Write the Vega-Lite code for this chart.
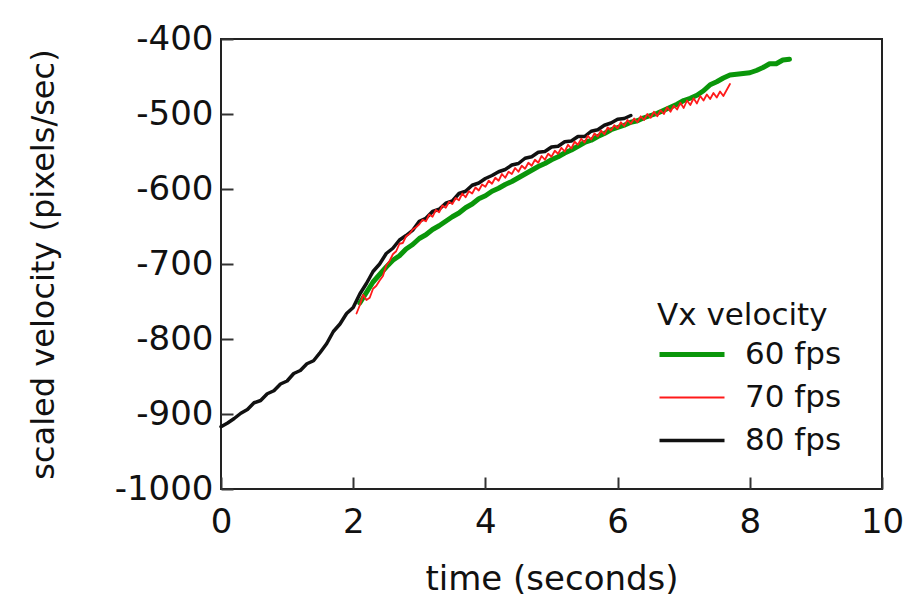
{
  "$schema": "https://vega.github.io/schema/vega-lite/v6.json",
  "width": 661,
  "height": 450,
  "autosize": "none",
  "padding": {"left": 221, "top": 39, "right": 35, "bottom": 114},
  "background": "white",
  "config": {
    "font": "DejaVu Sans",
    "view": {"stroke": "#222222", "strokeWidth": 2},
    "axis": {
      "grid": false,
      "domain": false,
      "ticks": true,
      "tickColor": "#333333",
      "tickWidth": 2,
      "tickSize": -12,
      "labelFontSize": 34,
      "labelColor": "#111111",
      "labelFlush": false,
      "labelOverlap": false,
      "titleFontWeight": "normal",
      "titleColor": "#111111"
    }
  },
  "data": {
    "values": [
      {"series": "60 fps", "t": 2.1, "v": -752}, {"series": "60 fps", "t": 2.2, "v": -738}, {"series": "60 fps", "t": 2.3, "v": -724}, {"series": "60 fps", "t": 2.4, "v": -714}, {"series": "60 fps", "t": 2.5, "v": -704}, {"series": "60 fps", "t": 2.6, "v": -695}, {"series": "60 fps", "t": 2.7, "v": -689}, {"series": "60 fps", "t": 2.8, "v": -680}, {"series": "60 fps", "t": 2.9, "v": -674}, {"series": "60 fps", "t": 3.0, "v": -666}, {"series": "60 fps", "t": 3.1, "v": -661}, {"series": "60 fps", "t": 3.2, "v": -654}, {"series": "60 fps", "t": 3.3, "v": -649}, {"series": "60 fps", "t": 3.4, "v": -643}, {"series": "60 fps", "t": 3.5, "v": -637}, {"series": "60 fps", "t": 3.6, "v": -632}, {"series": "60 fps", "t": 3.7, "v": -625}, {"series": "60 fps", "t": 3.8, "v": -620}, {"series": "60 fps", "t": 3.9, "v": -613}, {"series": "60 fps", "t": 4.0, "v": -609}, {"series": "60 fps", "t": 4.1, "v": -603}, {"series": "60 fps", "t": 4.2, "v": -599}, {"series": "60 fps", "t": 4.3, "v": -594}, {"series": "60 fps", "t": 4.4, "v": -590}, {"series": "60 fps", "t": 4.5, "v": -585}, {"series": "60 fps", "t": 4.6, "v": -580}, {"series": "60 fps", "t": 4.7, "v": -575}, {"series": "60 fps", "t": 4.8, "v": -570}, {"series": "60 fps", "t": 4.9, "v": -566}, {"series": "60 fps", "t": 5.0, "v": -561}, {"series": "60 fps", "t": 5.1, "v": -557}, {"series": "60 fps", "t": 5.2, "v": -552}, {"series": "60 fps", "t": 5.3, "v": -548}, {"series": "60 fps", "t": 5.4, "v": -543}, {"series": "60 fps", "t": 5.5, "v": -538}, {"series": "60 fps", "t": 5.6, "v": -535}, {"series": "60 fps", "t": 5.7, "v": -530}, {"series": "60 fps", "t": 5.8, "v": -526}, {"series": "60 fps", "t": 5.9, "v": -521}, {"series": "60 fps", "t": 6.0, "v": -518}, {"series": "60 fps", "t": 6.1, "v": -515}, {"series": "60 fps", "t": 6.2, "v": -511}, {"series": "60 fps", "t": 6.3, "v": -509}, {"series": "60 fps", "t": 6.4, "v": -505}, {"series": "60 fps", "t": 6.5, "v": -502}, {"series": "60 fps", "t": 6.6, "v": -499}, {"series": "60 fps", "t": 6.7, "v": -495}, {"series": "60 fps", "t": 6.8, "v": -491}, {"series": "60 fps", "t": 6.9, "v": -487}, {"series": "60 fps", "t": 7.0, "v": -482}, {"series": "60 fps", "t": 7.1, "v": -479}, {"series": "60 fps", "t": 7.2, "v": -475}, {"series": "60 fps", "t": 7.3, "v": -469}, {"series": "60 fps", "t": 7.4, "v": -461}, {"series": "60 fps", "t": 7.5, "v": -457}, {"series": "60 fps", "t": 7.6, "v": -452}, {"series": "60 fps", "t": 7.7, "v": -448}, {"series": "60 fps", "t": 7.8, "v": -447}, {"series": "60 fps", "t": 7.9, "v": -446}, {"series": "60 fps", "t": 8.0, "v": -445}, {"series": "60 fps", "t": 8.1, "v": -442}, {"series": "60 fps", "t": 8.2, "v": -438}, {"series": "60 fps", "t": 8.3, "v": -433}, {"series": "60 fps", "t": 8.4, "v": -433}, {"series": "60 fps", "t": 8.5, "v": -428}, {"series": "60 fps", "t": 8.6, "v": -427},
      {"series": "80 fps", "t": 0.0, "v": -917}, {"series": "80 fps", "t": 0.1, "v": -912}, {"series": "80 fps", "t": 0.2, "v": -906}, {"series": "80 fps", "t": 0.3, "v": -899}, {"series": "80 fps", "t": 0.4, "v": -894}, {"series": "80 fps", "t": 0.5, "v": -885}, {"series": "80 fps", "t": 0.6, "v": -882}, {"series": "80 fps", "t": 0.7, "v": -873}, {"series": "80 fps", "t": 0.8, "v": -869}, {"series": "80 fps", "t": 0.9, "v": -860}, {"series": "80 fps", "t": 1.0, "v": -856}, {"series": "80 fps", "t": 1.1, "v": -846}, {"series": "80 fps", "t": 1.2, "v": -842}, {"series": "80 fps", "t": 1.3, "v": -833}, {"series": "80 fps", "t": 1.4, "v": -829}, {"series": "80 fps", "t": 1.5, "v": -818}, {"series": "80 fps", "t": 1.6, "v": -806}, {"series": "80 fps", "t": 1.7, "v": -790}, {"series": "80 fps", "t": 1.8, "v": -780}, {"series": "80 fps", "t": 1.9, "v": -766}, {"series": "80 fps", "t": 2.0, "v": -758}, {"series": "80 fps", "t": 2.1, "v": -740}, {"series": "80 fps", "t": 2.2, "v": -726}, {"series": "80 fps", "t": 2.3, "v": -710}, {"series": "80 fps", "t": 2.4, "v": -700}, {"series": "80 fps", "t": 2.5, "v": -686}, {"series": "80 fps", "t": 2.6, "v": -679}, {"series": "80 fps", "t": 2.7, "v": -668}, {"series": "80 fps", "t": 2.8, "v": -662}, {"series": "80 fps", "t": 2.9, "v": -655}, {"series": "80 fps", "t": 3.0, "v": -643}, {"series": "80 fps", "t": 3.1, "v": -639}, {"series": "80 fps", "t": 3.2, "v": -630}, {"series": "80 fps", "t": 3.3, "v": -627}, {"series": "80 fps", "t": 3.4, "v": -619}, {"series": "80 fps", "t": 3.5, "v": -616}, {"series": "80 fps", "t": 3.6, "v": -606}, {"series": "80 fps", "t": 3.7, "v": -603}, {"series": "80 fps", "t": 3.8, "v": -595}, {"series": "80 fps", "t": 3.9, "v": -592}, {"series": "80 fps", "t": 4.0, "v": -586}, {"series": "80 fps", "t": 4.1, "v": -582}, {"series": "80 fps", "t": 4.2, "v": -577}, {"series": "80 fps", "t": 4.3, "v": -574}, {"series": "80 fps", "t": 4.4, "v": -568}, {"series": "80 fps", "t": 4.5, "v": -566}, {"series": "80 fps", "t": 4.6, "v": -559}, {"series": "80 fps", "t": 4.7, "v": -557}, {"series": "80 fps", "t": 4.8, "v": -551}, {"series": "80 fps", "t": 4.9, "v": -550}, {"series": "80 fps", "t": 5.0, "v": -544}, {"series": "80 fps", "t": 5.1, "v": -543}, {"series": "80 fps", "t": 5.2, "v": -537}, {"series": "80 fps", "t": 5.3, "v": -536}, {"series": "80 fps", "t": 5.4, "v": -530}, {"series": "80 fps", "t": 5.5, "v": -530}, {"series": "80 fps", "t": 5.6, "v": -523}, {"series": "80 fps", "t": 5.7, "v": -521}, {"series": "80 fps", "t": 5.8, "v": -515}, {"series": "80 fps", "t": 5.9, "v": -512}, {"series": "80 fps", "t": 6.0, "v": -507}, {"series": "80 fps", "t": 6.1, "v": -506}, {"series": "80 fps", "t": 6.2, "v": -502},
      {"series": "70 fps", "t": 2.05, "v": -766}, {"series": "70 fps", "t": 2.10, "v": -755}, {"series": "70 fps", "t": 2.15, "v": -741}, {"series": "70 fps", "t": 2.20, "v": -748}, {"series": "70 fps", "t": 2.25, "v": -745}, {"series": "70 fps", "t": 2.30, "v": -733}, {"series": "70 fps", "t": 2.35, "v": -729}, {"series": "70 fps", "t": 2.40, "v": -722}, {"series": "70 fps", "t": 2.45, "v": -716}, {"series": "70 fps", "t": 2.50, "v": -702}, {"series": "70 fps", "t": 2.55, "v": -696}, {"series": "70 fps", "t": 2.60, "v": -687}, {"series": "70 fps", "t": 2.65, "v": -683}, {"series": "70 fps", "t": 2.70, "v": -673}, {"series": "70 fps", "t": 2.75, "v": -672}, {"series": "70 fps", "t": 2.80, "v": -663}, {"series": "70 fps", "t": 2.85, "v": -660}, {"series": "70 fps", "t": 2.90, "v": -654}, {"series": "70 fps", "t": 2.95, "v": -651}, {"series": "70 fps", "t": 3.00, "v": -647}, {"series": "70 fps", "t": 3.05, "v": -641}, {"series": "70 fps", "t": 3.10, "v": -643}, {"series": "70 fps", "t": 3.15, "v": -634}, {"series": "70 fps", "t": 3.20, "v": -637}, {"series": "70 fps", "t": 3.25, "v": -628}, {"series": "70 fps", "t": 3.30, "v": -631}, {"series": "70 fps", "t": 3.35, "v": -622}, {"series": "70 fps", "t": 3.40, "v": -625}, {"series": "70 fps", "t": 3.45, "v": -617}, {"series": "70 fps", "t": 3.50, "v": -620}, {"series": "70 fps", "t": 3.55, "v": -612}, {"series": "70 fps", "t": 3.60, "v": -615}, {"series": "70 fps", "t": 3.65, "v": -606}, {"series": "70 fps", "t": 3.70, "v": -611}, {"series": "70 fps", "t": 3.75, "v": -603}, {"series": "70 fps", "t": 3.80, "v": -606}, {"series": "70 fps", "t": 3.85, "v": -598}, {"series": "70 fps", "t": 3.90, "v": -602}, {"series": "70 fps", "t": 3.95, "v": -594}, {"series": "70 fps", "t": 4.00, "v": -597}, {"series": "70 fps", "t": 4.05, "v": -589}, {"series": "70 fps", "t": 4.10, "v": -593}, {"series": "70 fps", "t": 4.15, "v": -585}, {"series": "70 fps", "t": 4.20, "v": -589}, {"series": "70 fps", "t": 4.25, "v": -580}, {"series": "70 fps", "t": 4.30, "v": -585}, {"series": "70 fps", "t": 4.35, "v": -577}, {"series": "70 fps", "t": 4.40, "v": -580}, {"series": "70 fps", "t": 4.45, "v": -572}, {"series": "70 fps", "t": 4.50, "v": -577}, {"series": "70 fps", "t": 4.55, "v": -569}, {"series": "70 fps", "t": 4.60, "v": -573}, {"series": "70 fps", "t": 4.65, "v": -565}, {"series": "70 fps", "t": 4.70, "v": -569}, {"series": "70 fps", "t": 4.75, "v": -561}, {"series": "70 fps", "t": 4.80, "v": -565}, {"series": "70 fps", "t": 4.85, "v": -556}, {"series": "70 fps", "t": 4.90, "v": -561}, {"series": "70 fps", "t": 4.95, "v": -553}, {"series": "70 fps", "t": 5.00, "v": -557}, {"series": "70 fps", "t": 5.05, "v": -549}, {"series": "70 fps", "t": 5.10, "v": -553}, {"series": "70 fps", "t": 5.15, "v": -545}, {"series": "70 fps", "t": 5.20, "v": -550}, {"series": "70 fps", "t": 5.25, "v": -541}, {"series": "70 fps", "t": 5.30, "v": -546}, {"series": "70 fps", "t": 5.35, "v": -537}, {"series": "70 fps", "t": 5.40, "v": -541}, {"series": "70 fps", "t": 5.45, "v": -533}, {"series": "70 fps", "t": 5.50, "v": -538}, {"series": "70 fps", "t": 5.55, "v": -529}, {"series": "70 fps", "t": 5.60, "v": -534}, {"series": "70 fps", "t": 5.65, "v": -526}, {"series": "70 fps", "t": 5.70, "v": -530}, {"series": "70 fps", "t": 5.75, "v": -522}, {"series": "70 fps", "t": 5.80, "v": -527}, {"series": "70 fps", "t": 5.85, "v": -518}, {"series": "70 fps", "t": 5.90, "v": -522}, {"series": "70 fps", "t": 5.95, "v": -515}, {"series": "70 fps", "t": 6.00, "v": -519}, {"series": "70 fps", "t": 6.05, "v": -511}, {"series": "70 fps", "t": 6.10, "v": -516}, {"series": "70 fps", "t": 6.15, "v": -508}, {"series": "70 fps", "t": 6.20, "v": -513}, {"series": "70 fps", "t": 6.25, "v": -506}, {"series": "70 fps", "t": 6.30, "v": -511}, {"series": "70 fps", "t": 6.35, "v": -503}, {"series": "70 fps", "t": 6.40, "v": -508}, {"series": "70 fps", "t": 6.45, "v": -500}, {"series": "70 fps", "t": 6.50, "v": -505}, {"series": "70 fps", "t": 6.55, "v": -497}, {"series": "70 fps", "t": 6.60, "v": -503}, {"series": "70 fps", "t": 6.65, "v": -495}, {"series": "70 fps", "t": 6.70, "v": -500}, {"series": "70 fps", "t": 6.75, "v": -491}, {"series": "70 fps", "t": 6.80, "v": -497}, {"series": "70 fps", "t": 6.85, "v": -489}, {"series": "70 fps", "t": 6.90, "v": -494}, {"series": "70 fps", "t": 6.95, "v": -485}, {"series": "70 fps", "t": 7.00, "v": -492}, {"series": "70 fps", "t": 7.05, "v": -482}, {"series": "70 fps", "t": 7.10, "v": -488}, {"series": "70 fps", "t": 7.15, "v": -479}, {"series": "70 fps", "t": 7.20, "v": -486}, {"series": "70 fps", "t": 7.25, "v": -476}, {"series": "70 fps", "t": 7.30, "v": -482}, {"series": "70 fps", "t": 7.35, "v": -474}, {"series": "70 fps", "t": 7.40, "v": -480}, {"series": "70 fps", "t": 7.45, "v": -472}, {"series": "70 fps", "t": 7.50, "v": -478}, {"series": "70 fps", "t": 7.55, "v": -470}, {"series": "70 fps", "t": 7.60, "v": -476}, {"series": "70 fps", "t": 7.65, "v": -468}, {"series": "70 fps", "t": 7.70, "v": -460}
    ]
  },
  "mark": {"type": "line", "interpolate": "linear", "strokeJoin": "round", "strokeCap": "round"},
  "encoding": {
    "x": {
      "field": "t", "type": "quantitative",
      "scale": {"domain": [0, 10], "nice": false},
      "axis": {"title": "time (seconds)", "titleFontSize": 34, "values": [0, 2, 4, 6, 8, 10], "labelPadding": 28, "titlePadding": 23}
    },
    "y": {
      "field": "v", "type": "quantitative",
      "scale": {"domain": [-1000, -400], "nice": false, "zero": false},
      "axis": {"title": "scaled velocity (pixels/sec)", "titleFontSize": 32, "values": [-1000, -900, -800, -700, -600, -500, -400], "labelExpr": "'' + datum.value", "labelPadding": 20, "titlePadding": 54}
    },
    "color": {
      "field": "series", "type": "nominal",
      "scale": {"domain": ["60 fps", "70 fps", "80 fps"], "range": ["#0a960a", "#ff1a1a", "#111111"]},
      "legend": {"title": "Vx velocity", "orient": "none", "legendX": 436, "legendY": 262, "symbolType": "stroke", "symbolSize": 4225, "clipHeight": 43, "labelFontSize": 31, "titleFontSize": 31, "titleFontWeight": "normal", "titleColor": "#111111", "labelColor": "#111111", "labelOffset": 18, "rowPadding": 0, "titlePadding": 1}
    },
    "strokeWidth": {
      "field": "series", "type": "ordinal",
      "scale": {"type": "ordinal", "domain": ["60 fps", "70 fps", "80 fps"], "range": [5, 1.8, 3.5]},
      "legend": {"title": "Vx velocity", "orient": "none", "legendX": 436, "legendY": 262, "symbolType": "stroke", "symbolSize": 4225, "clipHeight": 43, "labelFontSize": 31, "titleFontSize": 31, "titleFontWeight": "normal", "titleColor": "#111111", "labelColor": "#111111", "labelOffset": 18, "rowPadding": 0, "titlePadding": 1}
    }
  }
}
